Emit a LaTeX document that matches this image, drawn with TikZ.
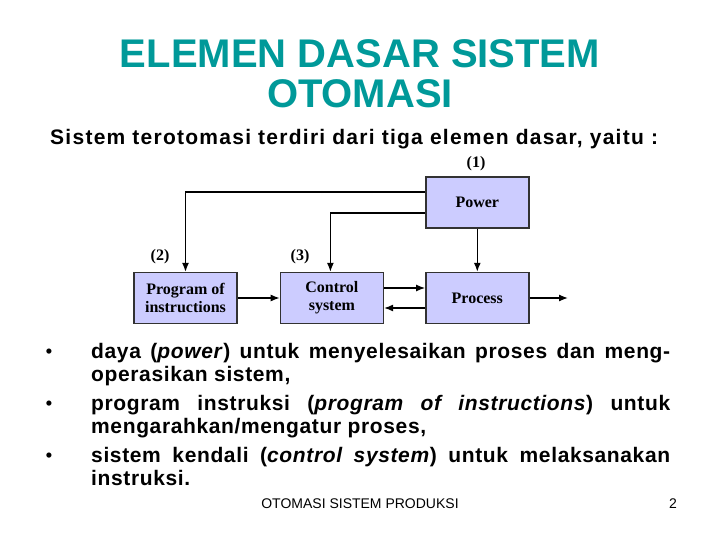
\documentclass[tikz,border=0pt]{standalone}
\usepackage{fontspec}
\setmainfont{Liberation Sans}
\newfontfamily\serifbox{Liberation Serif}
\newfontfamily\spacedfont[LetterSpace=3]{Liberation Sans}
\newfontfamily\widefont[LetterSpace=6]{Liberation Sans}
\usetikzlibrary{positioning, arrows.meta}
\definecolor{titleteal}{RGB}{0,153,153}
\definecolor{boxfill}{RGB}{204,204,255}
\definecolor{boxline}{RGB}{50,50,50}

\begin{document}
\begin{tikzpicture}[
        x=1bp, y=-1bp,
        block/.style={rectangle, draw=boxline, fill=boxfill, line width=1.4bp, minimum width=103bp, minimum height=51bp, inner sep=0pt, align=center, font=\serifbox\fontsize{16bp}{18bp}\selectfont\bfseries},
        tag/.style={font=\serifbox\fontsize{16bp}{18bp}\selectfont\bfseries, inner sep=0pt},
        link/.style={line width=1.3bp, -{Latex[length=9bp, width=7bp]}},
        para/.style={anchor=base west, inner sep=0pt, text width=579bp, align=justify, font=\spacedfont\fontsize{21bp}{23.5bp}\selectfont\bfseries},
        dot/.style={anchor=base, inner sep=0pt, font=\fontsize{18bp}{23bp}\selectfont\bfseries},
    ]
        \useasboundingbox (0,0) rectangle (720,540);

        % title
        \node[font=\fontsize{40bp}{40bp}\selectfont\bfseries, text=titleteal, anchor=base, inner sep=0pt] (T1) at (360,68) {ELEMEN DASAR SISTEM};
        \node[font=\fontsize{40bp}{40bp}\selectfont\bfseries, text=titleteal, anchor=base, inner sep=0pt] (T2) at (360,108) {OTOMASI};
        \node[font=\widefont\fontsize{21bp}{22bp}\selectfont\bfseries, anchor=base west, inner sep=0pt] (SUB) at (50,145) {Sistem terotomasi terdiri dari tiga elemen dasar, yaitu :};

        % diagram
        \node[block] (PROG) at (185.5,298) {Program of\\instructions};
        \node[block, right=42bp of PROG] (CTRL) {Control\\system};
        \node[block, right=41bp of CTRL] (PROC) {Process};
        \node[block, above=43bp of PROC] (POW) {Power};
        \coordinate (OUT) at (568,298);

        \node[tag] (L1) at (476,164) {(1)};
        \node[tag] (L2) at (160,257) {(2)};
        \node[tag] (L3) at (300,257) {(3)};

        \draw[link] ([yshift=10.5bp]POW.west) -| (PROG.north);
        \draw[link] ([yshift=-10.5bp]POW.west) -| ([xshift=-1.5bp]CTRL.north);
        \draw[link] (POW) -- (PROC);
        \draw[link] (PROG) -- (CTRL);
        \draw[link] ([yshift=10bp]CTRL.east) -- ([yshift=10bp]PROC.west);
        \draw[link] ([yshift=-10bp]PROC.west) -- ([yshift=-10bp]CTRL.east);
        \draw[link] (PROC) -- (OUT);

        % bullets
        \node[dot] (D1) at (49,357) {•};
        \node[dot] (D2) at (49,409) {•};
        \node[dot] (D3) at (49,461) {•};
        \node[para] (P1) at (91,358) {daya (\textit{power}) untuk menyelesaikan proses dan meng-\linebreak operasikan sistem,};
        \node[para] (P2) at (91,410) {program instruksi (\textit{program of instructions}) untuk\linebreak mengarahkan/mengatur proses,};
        \node[para] (P3) at (91,462) {sistem kendali (\textit{control system}) untuk melaksanakan\linebreak instruksi.};

        % footer
        \node[font=\fontsize{14bp}{16bp}\selectfont, anchor=base, inner sep=0pt] (FOOT) at (360,508) {OTOMASI SISTEM PRODUKSI};
        \node[font=\fontsize{14bp}{16bp}\selectfont, anchor=base east, inner sep=0pt] (PAGE) at (677,508) {2};
    \end{tikzpicture}
\end{document}
